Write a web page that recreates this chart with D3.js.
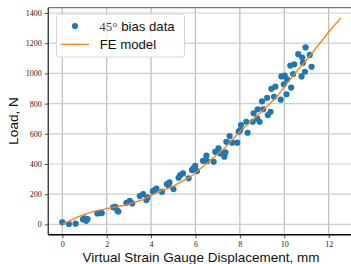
<!DOCTYPE html>
<html>
<head>
<meta charset="utf-8">
<script src="https://cdn.jsdelivr.net/npm/d3@7"></script>
<style>
  body { margin: 0; background: #fff; }
  svg { display: block; }
</style>
</head>
<body>
<script>
var biasX = [0, 0.3, 0.6, 0.93, 1.01, 1.08, 1.14, 1.58, 1.68, 1.78,
  2.29, 2.39, 2.48, 2.53, 2.89, 3.04, 3.15, 3.49, 3.64, 3.79, 3.84,
  4.08, 4.16, 4.24, 4.49, 4.71, 4.79, 4.83, 5.01, 5.24, 5.31, 5.44, 5.69,
  5.84, 5.9, 5.99, 6.07, 6.34, 6.49, 6.52, 6.82, 6.89, 7.04, 7.12, 7.3, 7.35,
  7.39, 7.54, 7.65, 7.88, 7.95, 8.02, 8.05, 8.29, 8.35, 8.58, 8.62, 8.78, 8.8,
  8.89, 9.0, 9.05, 9.23, 9.26, 9.38, 9.42, 9.54, 9.6, 9.84, 9.87, 9.98, 10.02,
  10.1, 10.13, 10.27, 10.31, 10.4, 10.45, 10.63, 10.78, 10.81, 10.84, 10.93,
  10.96, 11.15, 11.23];
var biasY = [15, 3, 5, 33, 40, 24, 36, 73, 77, 75,
  113, 117, 90, 85, 143, 156, 139, 188, 201, 161, 179,
  220, 228, 238, 216, 267, 258, 278, 234, 309, 327, 338, 305,
  360, 371, 388, 353, 421, 455, 419, 415, 481, 504, 470, 448, 477,
  547, 585, 541, 541, 614, 625, 658, 680, 607, 680, 736, 702, 762,
  680, 815, 762, 838, 724, 746, 898, 845, 912, 826, 980, 928, 985,
  862, 961, 1052, 906, 996, 1060, 1127, 980, 1105, 1070, 1011,
  1172, 1122, 1044];

// FE model curve
var feX = [0, 0.7, 1.3, 2.0, 2.8, 3.6, 4.3, 5.0, 5.8, 6.5, 7.3, 8.0, 8.8, 9.6, 10.4, 11.2, 12.0, 12.55];
var feY = [0, 50, 82, 104, 127, 162, 214, 254, 318, 404, 504, 614, 722, 835, 985, 1125, 1274, 1368];

var xTicks = [0, 2, 4, 6, 8, 10, 12];
var yTicks = [0, 200, 400, 600, 800, 1000, 1200, 1400];

var width = 351,
    height = 264,
    plotLeft = 48.3,
    plotTop = 7.7,
    plotW = 307,
    plotH = 227;
var sans = '"Liberation Sans", Arial, sans-serif',
    serif = '"Liberation Serif", "DejaVu Serif", serif';

var svg = d3.select('body')
    .append('svg')
    .attr('width', width)
    .attr('height', height);

var x = d3.scaleLinear().domain([-0.63, 13.2]).range([plotLeft, plotLeft + plotW]);
var y = d3.scaleLinear().domain([-68, 1435]).range([plotTop + plotH, plotTop]);

//grid lines
svg.append('g')
    .selectAll('line')
    .data(xTicks)
    .enter().append('line')
    .attr('x1', function (d) { return x(d); })
    .attr('x2', function (d) { return x(d); })
    .attr('y1', plotTop)
    .attr('y2', plotTop + plotH)
    .style('stroke', '#bdbdbd')
    .style('stroke-width', '1.2px');

svg.append('g')
    .selectAll('line')
    .data(yTicks)
    .enter().append('line')
    .attr('x1', plotLeft)
    .attr('x2', width)
    .attr('y1', function (d) { return y(d); })
    .attr('y2', function (d) { return y(d); })
    .style('stroke', '#cfcfcf')
    .style('stroke-width', '1.2px');

//axes with small outward ticks and serif labels
var xAxis = svg.append('g')
    .attr('transform', 'translate(0,' + (plotTop + plotH) + ')')
    .call(d3.axisBottom(x).tickValues(xTicks).tickSize(3.5).tickPadding(3).tickFormat(d3.format('d')));
var yAxis = svg.append('g')
    .attr('transform', 'translate(' + plotLeft + ',0)')
    .call(d3.axisLeft(y).tickValues(yTicks).tickSize(3.5).tickPadding(3).tickFormat(d3.format('d')));

[xAxis, yAxis].forEach(function (a) {
    a.select('.domain').remove();
    a.selectAll('text')
        .style('font-family', serif)
        .style('font-size', '8px')
        .style('fill', '#222');
    a.selectAll('line').style('stroke', '#222').style('stroke-width', '0.8px');
});

//spines
svg.append('line')
    .attr('x1', plotLeft).attr('x2', width)
    .attr('y1', plotTop).attr('y2', plotTop)
    .style('stroke', '#777').style('stroke-width', '1.2px');
svg.append('line')
    .attr('x1', plotLeft).attr('x2', plotLeft)
    .attr('y1', plotTop).attr('y2', plotTop + plotH)
    .style('stroke', '#444').style('stroke-width', '1.5px');
svg.append('line')
    .attr('x1', plotLeft).attr('x2', width)
    .attr('y1', plotTop + plotH).attr('y2', plotTop + plotH)
    .style('stroke', '#000').style('stroke-width', '1.5px');

//data points
svg.append('g')
    .selectAll('circle')
    .data(biasX.map(function (d, i) { return [d, biasY[i]]; }))
    .enter().append('circle')
    .attr('cx', function (d) { return x(d[0]); })
    .attr('cy', function (d) { return y(d[1]); })
    .attr('r', 3.1)
    .style('fill', '#1f77b4');

//FE model line
var line = d3.line()
    .x(function (d) { return x(d[0]); })
    .y(function (d) { return y(d[1]); });
svg.append('path')
    .datum(feX.map(function (d, i) { return [d, feY[i]]; }))
    .attr('d', line)
    .style('fill', 'none')
    .style('stroke', '#ff7f0e')
    .style('stroke-width', '1.3px');

//legend
var legend = svg.append('g');
legend.append('rect')
    .attr('x', 56.5).attr('y', 14)
    .attr('width', 128).attr('height', 43)
    .attr('rx', 2.5)
    .style('fill', 'rgba(255,255,255,0.85)')
    .style('stroke', '#d6d6d6')
    .style('stroke-width', '1px');
legend.append('circle')
    .attr('cx', 75).attr('cy', 26)
    .attr('r', 3.1)
    .style('fill', '#1f77b4');
legend.append('line')
    .attr('x1', 61).attr('x2', 89)
    .attr('y1', 44.3).attr('y2', 44.3)
    .style('stroke', '#ff7f0e')
    .style('stroke-width', '1.3px');
var t1 = legend.append('text')
    .attr('x', 99.3).attr('y', 30.5)
    .style('font-size', '13.2px')
    .style('fill', '#111');
t1.append('tspan')
    .style('font-family', serif)
    .style('font-size', '13px')
    .style('fill', '#444')
    .text('45°');
t1.append('tspan')
    .style('font-family', sans)
    .text(' bias data');
legend.append('text')
    .attr('x', 99.7).attr('y', 48.8)
    .style('font-family', sans)
    .style('font-size', '13.2px')
    .style('fill', '#111')
    .text('FE model');

//axis labels
svg.append('text')
    .attr('x', 201)
    .attr('y', 262)
    .attr('text-anchor', 'middle')
    .style('font-family', sans)
    .style('font-size', '13.5px')
    .style('fill', '#111')
    .text('Virtual Strain Gauge Displacement, mm');
svg.append('text')
    .attr('transform', 'translate(18,121) rotate(-90)')
    .attr('text-anchor', 'middle')
    .style('font-family', sans)
    .style('font-size', '13.5px')
    .style('fill', '#111')
    .text('Load, N');
</script>
</body>
</html>
